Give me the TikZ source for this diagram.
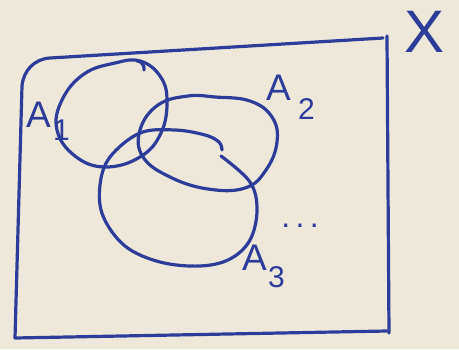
\documentclass[tikz,border=0pt]{standalone}
\usepackage{fontspec}
\setmainfont{Liberation Sans}
\definecolor{paper}{HTML}{EEE8DA}
\definecolor{ink}{HTML}{2C3C98}
\begin{document}
\begin{tikzpicture}[x=1pt,y=-1pt,
  pen/.style={draw=ink,line width=3.2pt,line cap=round,line join=round},
  lbl/.style={text=ink,inner sep=0pt,font=\fontsize{37}{37}\selectfont},
  sub/.style={text=ink,inner sep=0pt,font=\fontsize{30}{30}\selectfont}]
\fill[paper] (0,0) rectangle (459,349);
\useasboundingbox (0,0) rectangle (459,349);
% universe rectangle
\draw[pen] (383,38) -- (50,58) to[out=183,in=85] (22,86) -- (15,338) -- (387,331);
\draw[pen] (387,36) -- (389,333);
% A1
\draw[pen] plot[smooth cycle,tension=0.7] coordinates {(140,61) (160,76) (167,100) (161,133) (140,157) (105,167) (75,156) (57,130) (62,100) (84,74) (115,63)};
\draw[pen] (137,61) to[out=0,in=80] (144,70);
% A2
\draw[pen] plot[smooth cycle,tension=0.7] coordinates {(215,97) (250,101) (272,117) (277,142) (266,170) (245,188) (208,189) (170,177) (143,157) (140,130) (158,105) (188,96)};
% A3
\draw[pen] plot[smooth,tension=0.6] coordinates {(221,156) (250,182) (257,210) (250,240) (230,259) (200,266) (160,262) (125,246) (103,216) (100,185) (110,157) (140,133) (175,130) (205,135) (219,142) (222,150)};
% labels
\node[text=ink,inner sep=0pt,font=\fontsize{60}{60}\selectfont] (x) at (425,32) {X};
\node[lbl,anchor=south west] (a1) at (26,128) {A};
\node[sub,anchor=north west] (a1s) at (53,120) {1};
\node[lbl,anchor=south west] (a2) at (266,101) {A};
\node[sub,anchor=north west] (a2s) at (298,98) {2};
\node[lbl,anchor=south west] (a3) at (242,271) {A};
\node[sub,anchor=north west] (a3s) at (268,266) {3};
\node[text=ink,font=\fontsize{32}{32}\selectfont] (dots) at (300,226) {.\,.\,.};
\end{tikzpicture}
\end{document}
